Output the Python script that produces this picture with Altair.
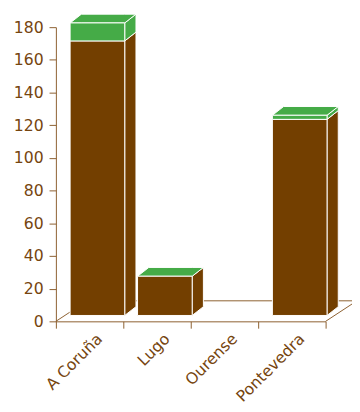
import altair as alt
import pandas as pd

# ---- data ----
categories = ["A Coruña", "Lugo", "Ourense", "Pontevedra"]
brown_vals = [168, 24, 0, 120]
green_vals = [11, 0, 0, 2.5]
y_ticks = [0, 20, 40, 60, 80, 100, 120, 140, 160, 180]

# ---- style / geometry (pixels) ----
W, H = 276, 301
Y_MAX = 180
BROWN = "#733f00"
GREEN = "#45ab47"
AXIS = "#8b5e2e"
TEXT = "#76450f"
FONT = "DejaVu Sans"
FONT_SIZE = 16
BAR_FRAC = 0.81
FRONT_DX, FRONT_DY = 8, 6
DEPTH_DX, DEPTH_DY = 11.5, 9
FLOOR_DX, FLOOR_DY = 32, 21

N = len(categories)
PX_X = W / N
PX_Y = H / Y_MAX
fx, fy = FRONT_DX / PX_X, FRONT_DY / PX_Y
ddx, ddy = DEPTH_DX / PX_X, DEPTH_DY / PX_Y
flx, fly = FLOOR_DX / PX_X, FLOOR_DY / PX_Y

front, side, top = [], [], []
for i, (c, b, g) in enumerate(zip(categories, brown_vals, green_vals)):
    if b + g <= 0:
        continue
    l = i + (1 - BAR_FRAC) / 2 + fx
    r = l + BAR_FRAC
    base = fy
    for s, lo, hi in (("brown", 0, b), ("green", b, b + g)):
        if hi - lo <= 0:
            continue
        front.append(dict(series=s, x=l, x2=r, y=base + lo, y2=base + hi))
        fid = f"{c}-{s}"
        side.append(dict(face=fid, series=s, x=r, y=base + hi, y2=base + lo))
        side.append(dict(face=fid, series=s, x=r + ddx, y=base + hi + ddy, y2=base + lo + ddy))
    T = base + b + g
    fid = f"{c}-top"
    top += [
        dict(face=fid, series="green", x=l, y=T, y2=T),
        dict(face=fid, series="green", x=l + ddx, y=T + ddy, y2=T),
        dict(face=fid, series="green", x=r, y=T + ddy, y2=T),
        dict(face=fid, series="green", x=r + ddx, y=T + ddy, y2=T + ddy),
    ]

floor = pd.DataFrame([
    dict(x=0, x2=flx, y=0, y2=fly),
    dict(x=flx, x2=N + flx, y=fly, y2=fly),
    dict(x=N, x2=N + flx, y=0, y2=fly),
])

xq = alt.Scale(domain=[0, N], nice=False, zero=False)
yq = alt.Scale(domain=[0, Y_MAX], nice=False)
yaxis = alt.Axis(
    values=y_ticks, title=None, grid=False,
    domainColor=AXIS, tickColor=AXIS, tickSize=7, labelPadding=6,
    labelColor=TEXT, labelFontSize=FONT_SIZE, labelFont=FONT,
)
col = alt.Color("series:N", scale=alt.Scale(domain=["brown", "green"], range=[BROWN, GREEN]), legend=None)

floor_layer = alt.Chart(floor).mark_rule(color=AXIS, strokeWidth=1, clip=False).encode(
    x=alt.X("x:Q", scale=xq, axis=None), x2="x2:Q",
    y=alt.Y("y:Q", scale=yq, axis=yaxis), y2="y2:Q",
)

side_layer = alt.Chart(pd.DataFrame(side)).mark_area(
    orient="vertical", stroke="white", strokeWidth=1, clip=False
).encode(
    x=alt.X("x:Q", scale=xq, axis=None),
    y=alt.Y("y:Q", scale=yq, axis=yaxis), y2="y2:Q",
    detail="face:N", color=col,
)

top_layer = alt.Chart(pd.DataFrame(top)).mark_area(
    orient="vertical", stroke="white", strokeWidth=1, clip=False
).encode(
    x=alt.X("x:Q", scale=xq, axis=None),
    y=alt.Y("y:Q", scale=yq, axis=yaxis), y2="y2:Q",
    detail="face:N", color=col,
)

front_layer = alt.Chart(pd.DataFrame(front)).mark_rect(
    stroke="white", strokeWidth=1, clip=False
).encode(
    x=alt.X("x:Q", scale=xq, axis=None), x2="x2:Q",
    y=alt.Y("y:Q", scale=yq, axis=yaxis), y2="y2:Q",
    color=col,
)

xaxis_layer = alt.Chart(pd.DataFrame({"cat": categories})).mark_rect(opacity=0).encode(
    x=alt.X("cat:N", sort=categories,
            scale=alt.Scale(type="band", paddingInner=0, paddingOuter=0),
            axis=alt.Axis(title=None, tickBand="extent", domainColor=AXIS, tickColor=AXIS,
                          tickSize=7, labelAngle=-45, labelAlign="right", labelBaseline="middle",
                          labelOffset=10, labelPadding=8, labelColor=TEXT, labelFontSize=FONT_SIZE,
                          labelFont=FONT)),
)

chart = alt.layer(xaxis_layer, floor_layer, side_layer, top_layer, front_layer).resolve_scale(
    x="independent"
).properties(
    width=W, height=H,
    autosize=alt.AutoSizeParams(type="none"),
    padding={"left": 49, "top": 15, "right": 27, "bottom": 82},
).configure_view(stroke=None)

chart.save("out.html", embed_options={"renderer": "svg", "actions": False})
